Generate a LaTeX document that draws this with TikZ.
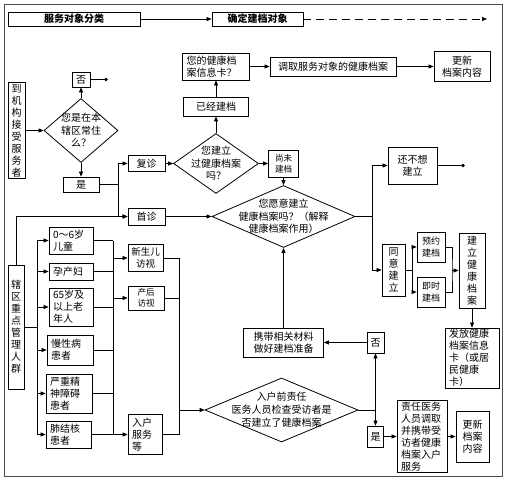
\documentclass[tikz,border=0pt]{standalone}
\usepackage{fontspec}
\setmainfont{Noto Sans CJK SC}
\usetikzlibrary{arrows.meta,shapes.geometric}

\tikzset{
  sz/.style 2 args={minimum width=#1bp, minimum height=#2bp},
  box/.style={draw, line width=0.8bp, inner sep=0pt, align=center, font=\fontsize{10bp}{12bp}\selectfont},
  lbox/.style={box, align=left, inner xsep=4bp},
  head/.style={box, font=\fontsize{10bp}{12bp}\selectfont\bfseries},
  small/.style={font=\fontsize{8.5bp}{11bp}\selectfont},
  ask/.style={draw, diamond, line width=0.8bp, inner sep=0pt},
  asktext/.style={align=center, inner sep=0pt, font=\fontsize{10bp}{12.5bp}\selectfont},
  wire/.style={line width=0.7bp},
  link/.style={wire, -{Triangle[length=5bp,width=4bp]}},
}

\begin{document}
\begin{tikzpicture}[x=1bp, y=-1bp]

\useasboundingbox (0,0) rectangle (513,484);
\draw[black!70, line width=0.9bp] (4,4) rectangle (502,476);

% header
\node[head, sz={132}{14}] (cls) at (74,19) {服务对象分类};
\node[head, sz={91}{14}] (obj) at (257.5,19) {确定建档对象};
\coordinate (hdrend) at (487,19);
\draw[link] (cls) -- (obj);
\draw[link, dash pattern=on 8bp off 5bp] (obj) -- (hdrend);

% top row
\node[lbox, sz={67}{27}, text width=59bp] (card) at (216,66.5) {您的健康档\\案信息卡？};
\node[box, sz={126}{19}] (fetch) at (333,66.5) {调取服务对象的健康档案};
\node[box, sz={56}{30}] (upd1) at (462,66.5) {更新\\档案内容};
\node[box, sz={65}{19}] (done) at (216,106.5) {已经建档};

% residents
\node[box, sz={17}{96}] (arrive) at (16.5,130.5) {到\\机\\构\\接\\受\\服\\务\\者};
\node[ask, sz={74}{64}] (ask1) at (81,130.5) {};
\node[asktext] (ask1t) at (ask1.center) {您是在本\\辖区常住\\么？};
\node[box, sz={18}{15}] (no1) at (81,79.5) {否};
\coordinate (end1) at (106,79.5);
\node[box, sz={36}{15}] (yes1) at (81,184.5) {是};
\node[box, sz={37}{16}] (rev) at (146.5,163.5) {复诊};
\node[box, sz={37}{17}] (first) at (146.5,216.5) {首诊};
\coordinate (jy) at (118,184.5);

\node[ask, sz={85}{60}] (ask2) at (216,163.5) {};
\node[asktext] (ask2t) at (ask2.center) {您建立\\过健康档案\\吗？};
\node[box, small, sz={30}{27}] (notyet) at (283.5,163.5) {尚未\\建档};

\node[ask, sz={143}{62}] (ask3) at (283.5,216.5) {};
\node[asktext] (ask3t) at (ask3.center) {您愿意建立\\健康档案吗？（解释\\健康档案作用）};
\coordinate (j3) at (372,216.5);
\node[box, sz={49}{37}] (refuse) at (412.5,165.5) {还不想\\建立};
\coordinate (end2) at (463,165.5);

% agree branch
\node[box, sz={23}{52}] (agree) at (393.5,270) {同\\意\\建\\立};
\coordinate (ja) at (412,270);
\node[box, font=\fontsize{9bp}{12bp}\selectfont, sz={28}{30}] (appt) at (431,247) {预约\\建档};
\node[box, font=\fontsize{9bp}{12bp}\selectfont, sz={28}{30}] (now) at (431,292) {即时\\建档};
\coordinate (jb) at (452,270.5);
\node[box, sz={26}{75}] (create) at (472,270.5) {建\\立\\健\\康\\档\\案};
\node[lbox, sz={54}{60}, text width=46bp] (issue) at (472,358) {发放健康\\档案信息\\卡（或居\\民健康\\卡）};

% home visits
\node[box, sz={80}{29}] (prep) at (283.5,342.5) {携带相关材料\\做好建档准备};
\node[box, sz={17}{21}] (no2) at (375.5,342.5) {否};
\node[ask, sz={153}{64}] (ask4) at (281.5,410) {};
\node[asktext, font=\fontsize{10bp}{13bp}\selectfont] (ask4t) at (ask4.center) {入户前责任\\医务人员检查受访者是\\否建立了健康档案};
\coordinate (j4) at (375.5,410);
\node[box, sz={16}{21}] (yes2) at (375.5,436.5) {是};
\node[lbox, sz={50}{72}, text width=42bp] (visit) at (422,436.5) {责任医务\\人员调取\\并携带受\\访者健康\\档案入户\\服务};
\node[box, sz={33}{51}] (upd2) at (472.5,436.5) {更新\\档案\\内容};

% key groups
\node[box, sz={16}{124}] (key) at (16,327) {辖\\区\\重\\点\\管\\理\\人\\群};
\coordinate (jk) at (37,327);
\node[lbox, sz={44}{27}, text width=36bp] (g1) at (71,240.5) {0～6岁\\儿童};
\node[lbox, sz={44}{17}, text width=36bp] (g2) at (71,271.5) {孕产妇};
\node[lbox, sz={44}{38}, text width=36bp] (g3) at (71,307) {65岁及\\以上老\\年人};
\node[lbox, sz={46}{30}, text width=38bp] (g4) at (70,350) {慢性病\\患者};
\node[lbox, sz={46}{39}, text width=38bp] (g5) at (69,393.5) {严重精\\神障碍\\患者};
\node[lbox, sz={45}{27}, text width=37bp] (g6) at (68.5,434.5) {肺结核\\患者};
\coordinate (busL) at (113,0);
\node[box, font=\fontsize{9.5bp}{12bp}\selectfont, sz={35}{27}] (nb) at (145.5,258) {新生儿\\访视};
\node[box, small, sz={36}{24}] (pp) at (146,298) {产后\\访视};
\node[lbox, sz={34}{40}, text width=26bp] (home) at (145,434.5) {入户\\服务\\等};
\coordinate (busR) at (179,0);

% connectors
\draw[link] (card) -- (fetch);
\draw[link] (fetch) -- (upd1);
\draw[link] (done) -- (card);
\draw[link] (ask2) -- (done);
\draw[link] (arrive) -- (ask1);
\draw[link] (ask1) -- (no1);
\draw[wire] (no1) -- (end1);
\fill (end1) circle[radius=1.8bp];
\draw[link] (ask1) -- (yes1);
\draw[wire] (yes1) -- (jy);
\draw[link] (jy) |- (rev);
\draw[link] (jy) |- (first);
\draw[link] (key) |- (first);
\draw[link] (rev) -- (ask2);
\draw[link] (ask2) -- (notyet);
\draw[link] (notyet) -- (ask3);
\draw[link] (first) -- (ask3);
\draw[wire] (ask3) -- (j3);
\draw[link] (j3) |- (refuse);
\draw[link] (j3) |- (agree);
\draw[wire] (refuse) -- (end2);
\fill (end2) circle[radius=1.8bp];
\draw[wire] (agree) -- (ja);
\draw[link] (ja) |- (appt);
\draw[link] (ja) |- (now);
\draw[wire] (appt) -| (jb) |- (now);
\draw[link] (jb) -- (create);
\draw[link] (create) -- (issue);
\draw[link] (prep) -- (ask3);
\draw[link] (no2) -- (prep);
\draw[wire] (ask4) -- (j4);
\draw[link] (j4) -- (no2);
\draw[link] (j4) -- (yes2);
\draw[link] (yes2) -- (visit);
\draw[link] (visit) -- (upd2);

\draw[wire] (key) -- (jk);
\foreach \g in {g1,g2,g3,g4,g5,g6}
  \draw[link] (jk) |- (\g.west);
\foreach \g in {g1,g2,g3,g4,g5,g6}
  \draw[wire] (\g.east) -- (\g.east -| busL);
\draw[wire] (g1.east -| busL) -- (g6.east -| busL);
\foreach \v in {nb,pp,home}
  \draw[link] (\v.west -| busL) -- (\v.west);
\foreach \v in {nb,pp,home}
  \draw[wire] (\v.east) -- (\v.east -| busR);
\draw[wire] (nb.east -| busR) -- (home.east -| busR);
\draw[link] (ask4.west -| busR) -- (ask4.west);

\end{tikzpicture}
\end{document}
